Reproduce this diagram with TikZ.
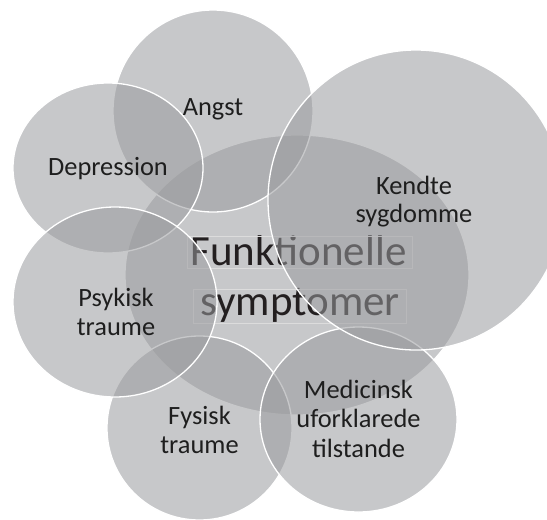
\documentclass[tikz,border=0pt]{standalone}
\usepackage{fontspec}
\setmainfont{Carlito}
\usetikzlibrary{shapes.geometric}
\definecolor{venn}{RGB}{154,155,158}
\definecolor{ink}{RGB}{30,30,30}
\definecolor{cink}{RGB}{35,31,32}
\begin{document}
\begin{tikzpicture}[x=1pt,y=-1pt,
  blob/.style={ellipse, draw=white, line width=1.3pt, fill=venn, fill opacity=0.545, draw opacity=1, inner sep=0pt, outer sep=0pt},
  lbl/.style={text=ink, font=\fontsize{26.4}{28.5}\selectfont, align=center, anchor=base, inner sep=0pt},
  ctr/.style={text=cink, font=\fontsize{43}{50}\selectfont, anchor=base, inner sep=0pt},
  tbox/.style={draw={rgb,255:red,220;green,220;blue,220}, line width=0.4pt}]
\useasboundingbox (0,0) rectangle (547,520);
\fill[white] (0,0) rectangle (547,520);
\clip (0,0) rectangle (547,520);
\node[blob, minimum width=344pt, minimum height=280pt] (fs) at (297,275) {};
\node[ctr] (t1) at (298.5,265) {Funktionelle};
\node[ctr] (t2) at (300,315) {symptomer};
\draw[tbox] (187,236) rectangle (412,268);
\draw[tbox] (193,289) rectangle (406,323);
\node[blob, minimum width=200pt, minimum height=202pt] (angst) at (213,111) {};
\node[blob, minimum width=190pt, minimum height=170pt] (dep) at (108,168) {};
\node[blob, minimum width=185pt, minimum height=184pt] (fys) at (199.5,428) {};
\node[blob, minimum width=204pt, minimum height=190pt] (psy) at (115,302) {};
\node[blob, minimum width=197pt, minimum height=185pt] (med) at (358.5,419.5) {};
\node[blob, minimum width=296pt, minimum height=300pt] (ken) at (416,200) {};
\node[lbl] (la) at (213,115) {Angst};
\node[lbl] (ld) at (108,175) {Depression};
\node[lbl] (lk) at (414,222.5) {Kendte\\sygdomme};
\node[lbl] (lp) at (116,335) {Psykisk\\traume};
\node[lbl] (lf) at (199.5,453) {Fysisk\\traume};
\node[lbl, font=\fontsize{26.4}{29.5}\selectfont] (lm) at (358.5,457) {Medicinsk\\uforklarede\\tilstande};
\end{tikzpicture}
\end{document}
